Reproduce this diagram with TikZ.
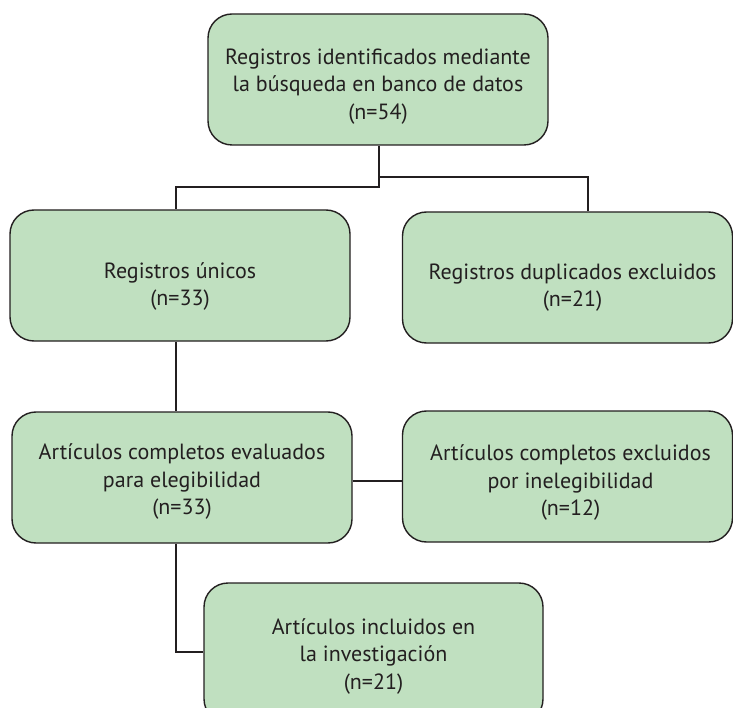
\documentclass[tikz,border=0pt]{standalone}
\usepackage{fontspec}
\setmainfont{PT Sans}
\definecolor{boxfill}{HTML}{C0E0C0}
\definecolor{ink}{HTML}{231F20}
\newcommand{\boxtext}[2]{\raisebox{-#1}[\height][\depth]{\begin{tabular}{@{}c@{}}#2\end{tabular}}}
\begin{document}
\begin{tikzpicture}[x=1pt,y=-1pt,
  flowbox/.style={draw=ink, fill=boxfill, line width=1.4pt, rounded corners=24pt,
    align=center, text=ink, inner sep=0pt,
    font=\fontsize{22}{27.5}\selectfont},
  link/.style={draw=ink, line width=1.4pt}]
\useasboundingbox (0,0) rectangle (733,708);
\clip (0,0) rectangle (733,708);
\node[flowbox, minimum width=340pt, minimum height=131pt] (top) at (378,79.5)
  {\boxtext{7pt}{Registros identificados mediante\\la búsqueda en banco de datos\\(n=54)}};
\node[flowbox, minimum width=340pt, minimum height=131pt] (uni) at (180,275.5)
  {\boxtext{11pt}{Registros únicos\\(n=33)}};
\node[flowbox, minimum width=330pt, minimum height=131pt] (dup) at (567.5,277.5)
  {\hspace*{10pt}\boxtext{10pt}{Registros duplicados excluidos\\(n=21)}};
\node[flowbox, minimum width=340pt, minimum height=131pt] (eva) at (182,477.5)
  {\boxtext{4pt}{Artículos completos evaluados\\para elegibilidad\\(n=33)}};
\node[flowbox, minimum width=330pt, minimum height=131pt] (exc) at (567.5,476.5)
  {\hspace*{6pt}\boxtext{6pt}{Artículos completos excluidos\\por inelegibilidad\\(n=12)}};
\node[flowbox, minimum width=339pt, minimum height=140pt] (inc) at (373.5,653)
  {\boxtext{3pt}{Artículos incluidos en\\la investigación\\(n=21)}};
\coordinate (j1) at (379,187);
\coordinate (j2) at (379,177);
\draw[link] (top.south -| j1) -- (j1) -| (uni.north -| 176,0);
\draw[link] (j2) -| (dup.north -| 588,0);
\draw[link] (uni.south -| 176,0) -- (eva.north -| 176,0);
\draw[link] (eva.east |- 0,481) -- (exc.west |- 0,481);
\draw[link] (eva.south -| 176,0) |- (inc.west |- 0,652);
\end{tikzpicture}
\end{document}
